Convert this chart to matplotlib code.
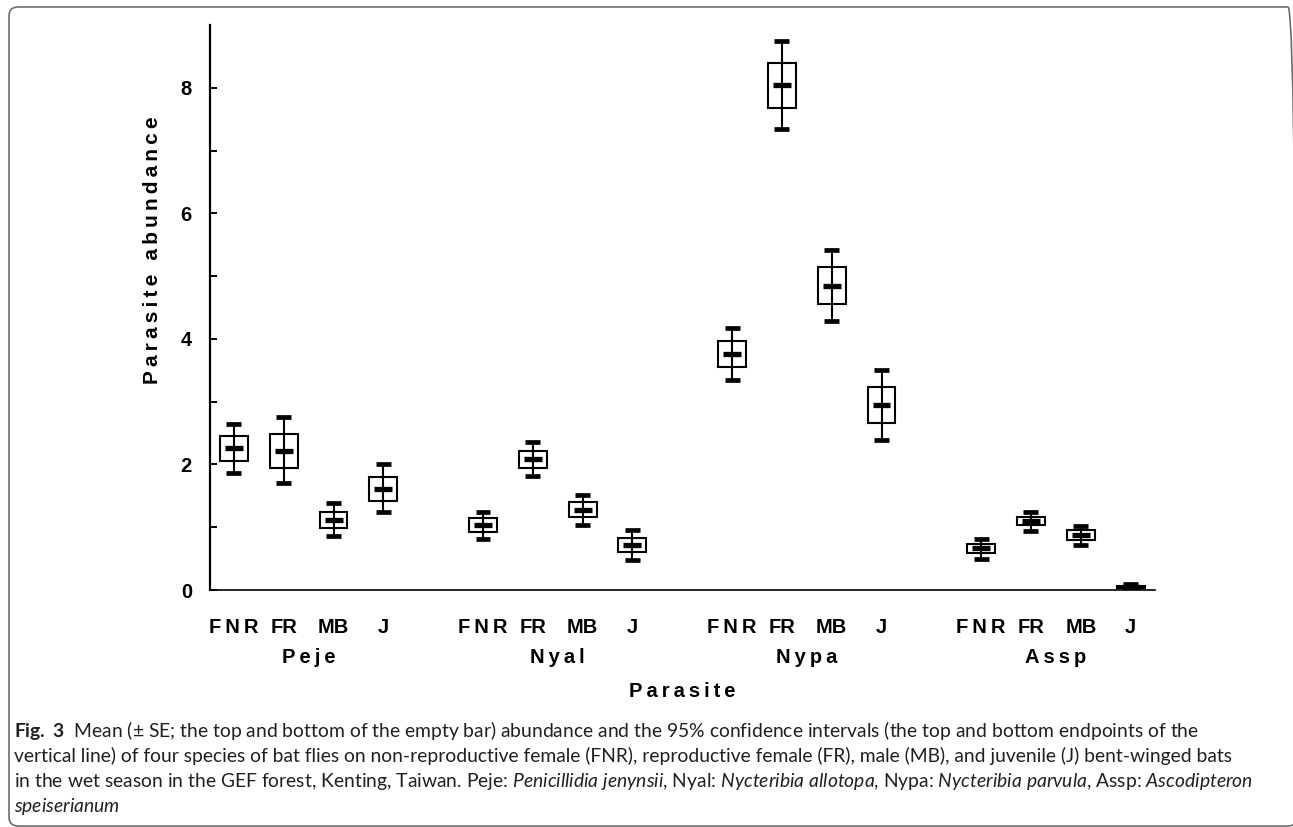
import matplotlib.pyplot as plt
import numpy as np
from matplotlib.patches import FancyBboxPatch

# =========================
# Data
# =========================
PARASITES = ["Peje", "Nyal", "Nypa", "Assp"]
HOSTS = ["FNR", "FR", "MB", "J"]

# one row per parasite, one column per host group
MEAN = [
    [2.26, 2.21, 1.12, 1.61],
    [1.03, 2.08, 1.28, 0.72],
    [3.76, 8.04, 4.84, 2.94],
    [0.67, 1.10, 0.87, 0.05],
]
SE_HIGH = [
    [2.45, 2.48, 1.25, 1.80],
    [1.14, 2.21, 1.40, 0.83],
    [3.96, 8.39, 5.14, 3.23],
    [0.73, 1.16, 0.95, 0.07],
]
SE_LOW = [
    [2.05, 1.95, 0.99, 1.42],
    [0.92, 1.95, 1.16, 0.60],
    [3.55, 7.68, 4.55, 2.66],
    [0.59, 1.03, 0.79, 0.03],
]
CI_HIGH = [
    [2.64, 2.75, 1.39, 2.00],
    [1.25, 2.36, 1.52, 0.96],
    [4.18, 8.74, 5.41, 3.50],
    [0.82, 1.24, 1.02, 0.09],
]
CI_LOW = [
    [1.87, 1.70, 0.86, 1.24],
    [0.82, 1.81, 1.03, 0.48],
    [3.35, 7.34, 4.28, 2.39],
    [0.49, 0.94, 0.71, 0.00],
]

Y_TICKS = [0, 2, 4, 6, 8]

CAPTION_LINES = [
    r"$\mathbf{Fig.\ 3}$  Mean (± SE; the top and bottom of the empty bar) abundance and the 95% "
    r"confidence intervals (the top and bottom endpoints of the",
    "vertical line) of four species of bat flies on non-reproductive female (FNR), reproductive "
    "female (FR), male (MB), and juvenile (J) bent-winged bats",
    r"in the wet season in the GEF forest, Kenting, Taiwan. Peje: $\mathit{Penicillidia\ jenynsii}$, "
    r"Nyal: $\mathit{Nycteribia\ allotopa}$, Nypa: $\mathit{Nycteribia\ parvula}$, "
    r"Assp: $\mathit{Ascodipteron}$",
    r"$\mathit{speiserianum}$",
]

# =========================
# Style
# =========================
THIN = "\u2009"
CHART_FONT = ["Liberation Sans", "DejaVu Sans"]
CAPTION_FONT = "Lato"

plt.rcParams["mathtext.fontset"] = "custom"
plt.rcParams["mathtext.rm"] = CAPTION_FONT
plt.rcParams["mathtext.it"] = CAPTION_FONT + ":italic"
plt.rcParams["mathtext.bf"] = CAPTION_FONT + ":bold"

BOX_W = 0.56
CAP_W = 0.30
MEAN_W = 0.36


def spaced(s):
    return THIN.join(s)


# =========================
# Figure
# =========================
fig = plt.figure(figsize=(12.93, 8.27), dpi=100)
ax = fig.add_axes([210 / 1293, 237 / 827, 945 / 1293, 565 / 827])

positions = []
for g in range(len(PARASITES)):
    for i in range(len(HOSTS)):
        positions.append(5 * g + i)
positions = np.array(positions, dtype=float)

mean = np.array(MEAN).ravel()
se_hi = np.array(SE_HIGH).ravel()
se_lo = np.array(SE_LOW).ravel()
ci_hi = np.array(CI_HIGH).ravel()
ci_lo = np.array(CI_LOW).ravel()

# whiskers (95% CI)
ax.vlines(positions, ci_lo, ci_hi, color="black", lw=1.5, zorder=2)
ax.hlines(ci_hi, positions - CAP_W / 2, positions + CAP_W / 2,
          color="black", lw=3.4, capstyle="butt", zorder=3)
ax.hlines(ci_lo, positions - CAP_W / 2, positions + CAP_W / 2,
          color="black", lw=3.4, capstyle="butt", zorder=3)

# empty bars (+- SE)
ax.bar(positions, se_hi - se_lo, bottom=se_lo, width=BOX_W,
       fill=False, edgecolor="black", linewidth=1.5, zorder=3)

# mean
ax.hlines(mean, positions - MEAN_W / 2, positions + MEAN_W / 2,
          color="black", lw=3.8, capstyle="butt", zorder=4)

ax.set_xlim(-0.48, 18.49)
ax.set_ylim(0, 9)

ax.spines["top"].set_visible(False)
ax.spines["right"].set_visible(False)
ax.spines["left"].set_linewidth(1.6)
ax.spines["bottom"].set_linewidth(1.2)

ax.set_yticks(Y_TICKS)
ax.set_yticks(range(0, 9), minor=True)
ax.tick_params(axis="y", which="both", direction="in", length=5, width=1.4, pad=13)
ax.set_yticklabels([str(t) for t in Y_TICKS], fontsize=14.5,
                   fontweight="bold", family=CHART_FONT)

host_labels = [spaced(h) if h == "FNR" else h for h in HOSTS] * len(PARASITES)
ax.set_xticks(positions)
ax.set_xticklabels(host_labels, fontsize=14.5, fontweight="bold", family=CHART_FONT)
ax.tick_params(axis="x", length=0, pad=20)

for g, name in enumerate(PARASITES):
    ax.text(5 * g + 1.5, -0.119, spaced(name), transform=ax.get_xaxis_transform(),
            ha="center", va="center", fontsize=14.5, fontweight="bold", family=CHART_FONT)

ax.set_xlabel(spaced("Parasite"), fontsize=14.5, fontweight="bold",
              family=CHART_FONT, va="center")
ax.xaxis.set_label_coords(0.5, -0.18)
ax.set_ylabel(THIN.join("Parasite abundance"), fontsize=15, fontweight="bold",
              family=CHART_FONT, va="center")
ax.yaxis.set_label_coords(-0.061, 0.602)

# =========================
# Caption and frame
# =========================
for k, line in enumerate(CAPTION_LINES):
    fig.text(14 / 1293, 1 - (737 + 25 * k) / 827, line, ha="left", va="baseline",
             fontsize=13.9, family=CAPTION_FONT, color="#231f20")

frame = FancyBboxPatch((0.09, 0.01), 12.88, 8.19,
                       boxstyle="round,pad=0,rounding_size=0.09",
                       transform=fig.dpi_scale_trans, fill=False,
                       edgecolor="#6d6d6d", linewidth=1.2, clip_on=False)
fig.patches.append(frame)

fig.savefig("out.png", dpi=100)
